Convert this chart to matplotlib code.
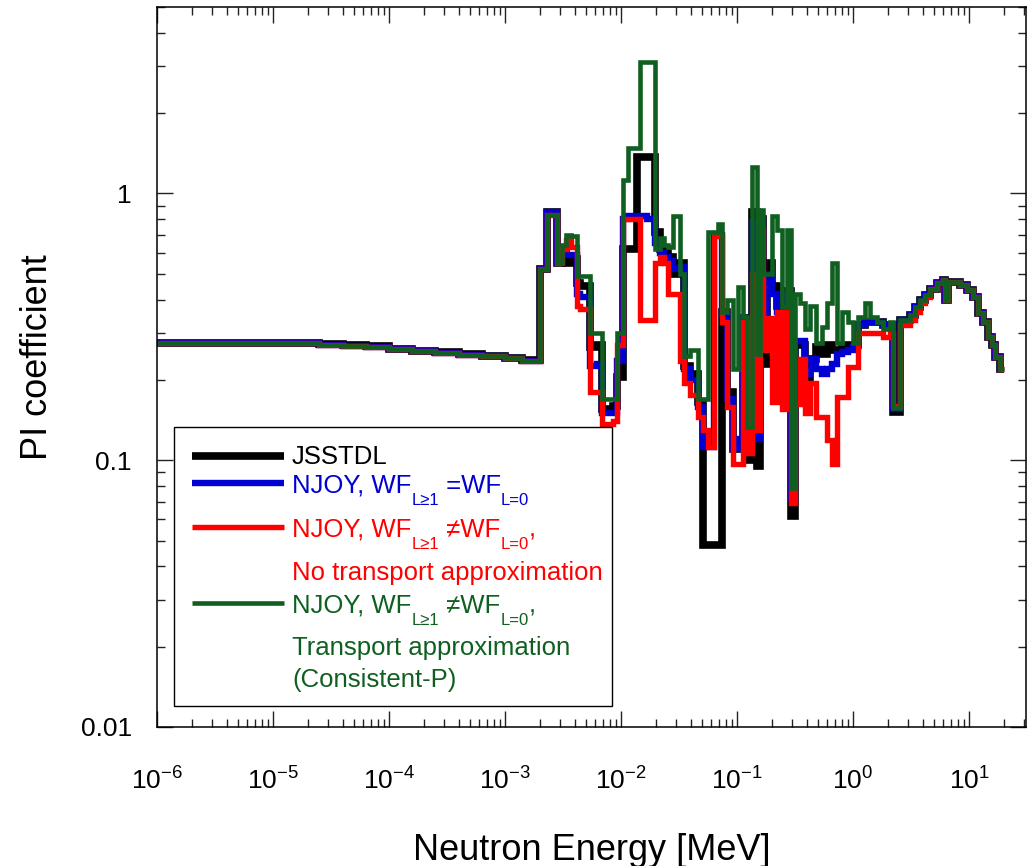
import numpy as np
import matplotlib
matplotlib.use('Agg')
import matplotlib.pyplot as plt
from matplotlib import ticker
from matplotlib.transforms import IdentityTransform
from matplotlib.patches import Rectangle
from matplotlib.lines import Line2D

FONT = 'Liberation Sans'
plt.rcParams['font.family'] = [FONT, 'DejaVu Sans']
plt.rcParams['mathtext.fontset'] = 'custom'
plt.rcParams['mathtext.rm'] = FONT
plt.rcParams['mathtext.it'] = FONT + ':italic'
plt.rcParams['mathtext.bf'] = FONT + ':bold'
plt.rcParams['mathtext.sf'] = FONT

# ---------------- data ----------------
# energy group boundaries [MeV]
edges = [1.0e-6, 2.51e-5, 3.98e-5, 6.31e-5, 1.0e-4, 1.58e-4, 2.51e-4, 3.98e-4, 6.31e-4, 1.0e-3, 1.41e-3,
         2.00e-3, 2.30e-3, 2.81e-3, 3.10e-3, 3.36e-3, 3.71e-3, 4.18e-3, 4.43e-3, 5.41e-3, 6.21e-3,
         6.86e-3, 7.73e-3, 8.53e-3, 9.24e-3, 1.04e-2, 1.15e-2, 1.37e-2, 1.46e-2, 1.67e-2, 1.96e-2,
         2.17e-2, 2.35e-2, 2.54e-2, 2.81e-2, 3.23e-2, 3.49e-2, 3.94e-2, 4.61e-2, 5.09e-2, 5.62e-2,
         6.34e-2, 6.86e-2, 7.43e-2, 8.20e-2, 9.24e-2, 0.102, 0.113, 0.122, 0.135, 0.149,
         0.158, 0.168, 0.181, 0.200, 0.221, 0.244, 0.270, 0.292, 0.316, 0.349,
         0.386, 0.426, 0.480, 0.541, 0.597, 0.659, 0.728, 0.804, 0.906, 1.0,
         1.104, 1.269, 1.402, 1.61, 1.814, 2.084, 2.213, 2.542, 3.10, 3.42,
         3.78, 4.18, 4.61, 5.30, 5.97, 6.21, 6.59, 8.36, 9.61, 10.8,
         11.96, 13.2, 14.6, 15.8, 16.8, 18.5, 20.0]

jsstdl = [0.274, 0.272, 0.270, 0.267, 0.262, 0.257, 0.254, 0.250, 0.246, 0.242, 0.237,
          0.52, 0.85, 0.55, 0.60, 0.55, 0.57, 0.46, 0.45, 0.265, 0.27,
          0.155, 0.155, 0.16, 0.205, 0.62, 0.62, 1.37, 1.37, 1.37, 0.72,
          0.62, 0.60, 0.58, 0.50, 0.55, 0.225, 0.21, 0.165, 0.048, 0.048,
          0.048, 0.048, 0.36, 0.18, 0.11, 0.11, 0.34, 0.10, 0.85, 0.095,
          0.80, 0.23, 0.55, 0.45, 0.38, 0.30, 0.43, 0.062, 0.27, 0.27,
          0.20, 0.24, 0.266, 0.25, 0.27, 0.26, 0.26, 0.265, 0.27, 0.27,
          0.32, 0.33, 0.33, 0.33, 0.32, 0.32, 0.152, 0.335, 0.35, 0.375,
          0.40, 0.416, 0.44, 0.46, 0.474, 0.40, 0.466, 0.454, 0.435, 0.41,
          0.355, 0.33, 0.29, 0.27, 0.244, 0.22]

njoy_same = [0.274, 0.271, 0.269, 0.266, 0.261, 0.256, 0.253, 0.249, 0.245, 0.241, 0.236,
             0.52, 0.85, 0.55, 0.61, 0.59, 0.59, 0.42, 0.41, 0.225, 0.23,
             0.15, 0.15, 0.15, 0.235, 0.80, 0.82, 0.82, 0.82, 0.80, 0.65,
             0.60, 0.58, 0.56, 0.52, 0.53, 0.22, 0.20, 0.158, 0.112, 0.112,
             0.70, 0.70, 0.35, 0.17, 0.11, 0.12, 0.34, 0.11, 0.78, 0.12,
             0.78, 0.30, 0.50, 0.42, 0.36, 0.28, 0.42, 0.072, 0.28, 0.28,
             0.21, 0.24, 0.22, 0.21, 0.22, 0.23, 0.25, 0.255, 0.26, 0.265,
             0.32, 0.33, 0.33, 0.33, 0.32, 0.32, 0.155, 0.335, 0.35, 0.375,
             0.40, 0.416, 0.44, 0.46, 0.474, 0.40, 0.466, 0.454, 0.435, 0.41,
             0.355, 0.33, 0.29, 0.27, 0.244, 0.22]

njoy_diff_notr = [0.274, 0.271, 0.269, 0.266, 0.261, 0.256, 0.253, 0.249, 0.245, 0.241, 0.236,
                  0.52, 0.83, 0.55, 0.62, 0.67, 0.63, 0.38, 0.37, 0.18, 0.18,
                  0.137, 0.137, 0.14, 0.27, 0.80, 0.80, 0.80, 0.335, 0.335, 0.55,
                  0.58, 0.55, 0.42, 0.42, 0.235, 0.195, 0.175, 0.145, 0.13, 0.112,
                  0.69, 0.69, 0.33, 0.158, 0.097, 0.097, 0.33, 0.106, 0.50, 0.13,
                  0.73, 0.26, 0.34, 0.165, 0.36, 0.155, 0.36, 0.069, 0.163, 0.24,
                  0.15, 0.195, 0.145, 0.145, 0.119, 0.097, 0.172, 0.172, 0.224, 0.224,
                  0.30, 0.30, 0.30, 0.30, 0.29, 0.30, 0.16, 0.32, 0.335, 0.36,
                  0.39, 0.41, 0.44, 0.46, 0.474, 0.40, 0.466, 0.454, 0.435, 0.41,
                  0.355, 0.33, 0.29, 0.27, 0.244, 0.22]

njoy_diff_tr = [0.274, 0.271, 0.269, 0.266, 0.261, 0.256, 0.253, 0.249, 0.245, 0.241, 0.236,
                0.52, 0.83, 0.55, 0.64, 0.70, 0.69, 0.49, 0.49, 0.30, 0.30,
                0.17, 0.17, 0.17, 0.30, 1.12, 1.48, 1.48, 3.1, 3.1, 0.62,
                0.68, 0.64, 0.63, 0.82, 0.50, 0.245, 0.26, 0.17, 0.17, 0.72,
                0.72, 0.77, 0.36, 0.40, 0.22, 0.447, 0.345, 0.133, 1.26, 0.25,
                0.87, 0.50, 0.50, 0.82, 0.73, 0.375, 0.73, 0.079, 0.42, 0.39,
                0.31, 0.38, 0.275, 0.315, 0.39, 0.55, 0.275, 0.36, 0.33, 0.275,
                0.345, 0.39, 0.345, 0.33, 0.31, 0.33, 0.157, 0.335, 0.35, 0.375,
                0.40, 0.416, 0.44, 0.46, 0.474, 0.40, 0.466, 0.454, 0.435, 0.41,
                0.355, 0.33, 0.29, 0.27, 0.244, 0.22]

x_ticks = [1e-6, 1e-5, 1e-4, 1e-3, 1e-2, 1e-1, 1e0, 1e1]
x_ticklabels = [r'$\mathregular{10^{-6}}$', r'$\mathregular{10^{-5}}$', r'$\mathregular{10^{-4}}$',
                r'$\mathregular{10^{-3}}$', r'$\mathregular{10^{-2}}$', r'$\mathregular{10^{-1}}$',
                r'$\mathregular{10^{0}}$', r'$\mathregular{10^{1}}$']
y_ticks = [0.01, 0.1, 1]
y_ticklabels = ['0.01', '0.1', '1']

C_K, C_B, C_R, C_G = '#000000', '#0000d2', '#ff0000', '#0f6020'

# ---------------- figure ----------------
W, H = 1027, 866
fig = plt.figure(figsize=(W / 100, H / 100), dpi=100)
ax = fig.add_axes([157 / W, (H - 727) / H, (1026 - 157) / W, (727 - 7) / H])
ax.set_xscale('log')
ax.set_yscale('log')

for vals, col, lw in [(jsstdl, C_K, 5.5), (njoy_same, C_B, 4.6),
                      (njoy_diff_notr, C_R, 3.9), (njoy_diff_tr, C_G, 3.3)]:
    ax.stairs(vals, edges, baseline=None, color=col, linewidth=lw, joinstyle='miter')

ax.set_xlim(1e-6, 31)
ax.set_ylim(0.01, 5.0)

ax.set_xticks(x_ticks, labels=x_ticklabels)
ax.set_yticks(y_ticks, labels=y_ticklabels)
ax.xaxis.set_minor_locator(ticker.LogLocator(base=10, subs=np.arange(2, 10), numticks=30))
ax.yaxis.set_minor_locator(ticker.LogLocator(base=10, subs=np.arange(2, 10), numticks=30))
ax.xaxis.set_minor_formatter(ticker.NullFormatter())
ax.yaxis.set_minor_formatter(ticker.NullFormatter())
ax.tick_params(which='both', direction='in', top=True, right=True, width=1.0, color='#222222')
ax.tick_params(which='major', length=11.5)
ax.tick_params(which='minor', length=5.8)
ax.tick_params(axis='x', which='major', pad=29, labelsize=19)
ax.tick_params(axis='y', which='major', pad=18, labelsize=19)
for sp in ax.spines.values():
    sp.set_linewidth(1.1)

ax.set_xlabel('Neutron Energy [MeV]', fontsize=26)
ax.xaxis.label.set_va('baseline')
ax.xaxis.set_label_coords(0.5, (727 - 860) / 720)
ax.set_ylabel('PI coefficient', fontsize=26)
ax.yaxis.label.set_va('center')
ax.yaxis.set_label_coords((37 - 157) / 869, (727 - 357) / 720)

# ---------------- legend (drawn in pixel coordinates) ----------------
def Y(img_y):
    return H - img_y

fig.add_artist(Rectangle((174, Y(706)), 612 - 174, 706 - 427, transform=IdentityTransform(),
                         facecolor='white', edgecolor='black', linewidth=1.0, zorder=10))
for yy, col, lw in [(456, C_K, 5.5), (483, C_B, 4.6), (527, C_R, 3.9), (603, C_G, 3.3)]:
    fig.add_artist(Line2D([192, 284], [Y(yy), Y(yy)], color=col, linewidth=lw,
                          transform=IdentityTransform(), zorder=11, solid_capstyle='butt'))

fig.canvas.draw()
renderer = fig.canvas.get_renderer()
FS, SS, SUB = 18.5, 12, -12


def rich(x, y_img, pieces, color):
    for txt, size, dy in pieces:
        t = fig.text(x, Y(y_img) + dy, txt, fontsize=size, color=color,
                     family=[FONT, 'DejaVu Sans'], transform=IdentityTransform(),
                     ha='left', va='baseline', zorder=12)
        x = t.get_window_extent(renderer=renderer).x1


rich(292, 464, [('JSSTDL', FS, 0)], C_K)
rich(292, 493, [('NJOY, WF', FS, 0), ('L≥1', SS, SUB), (' =WF', FS, 0), ('L=0', SS, SUB)], C_B)
rich(292, 537, [('NJOY, WF', FS, 0), ('L≥1', SS, SUB), (' ≠WF', FS, 0), ('L=0', SS, SUB), (',', FS, 0)], C_R)
rich(292, 580, [('No transport approximation', FS, 0)], C_R)
rich(292, 613, [('NJOY, WF', FS, 0), ('L≥1', SS, SUB), (' ≠WF', FS, 0), ('L=0', SS, SUB), (',', FS, 0)], C_G)
rich(292, 655, [('Transport approximation', FS, 0)], C_G)
rich(292, 687, [('(Consistent-P)', FS, 0)], C_G)

fig.savefig('out.png', dpi=100)
